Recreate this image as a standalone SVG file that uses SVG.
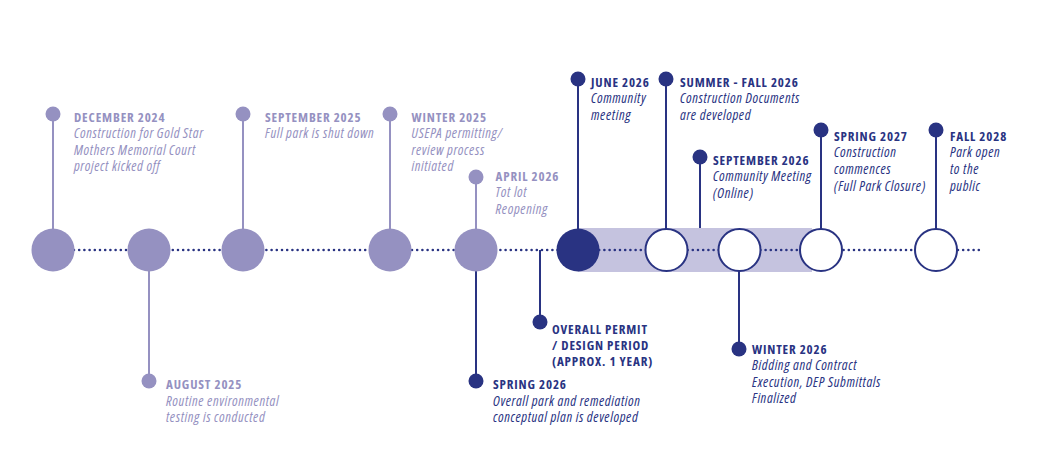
<svg xmlns="http://www.w3.org/2000/svg" width="1041" height="468" viewBox="0 0 1041 468">
<style>
text{font-family:"Open Sans","Liberation Sans",sans-serif;font-stretch:condensed}
.t{font-weight:700;font-size:13px;letter-spacing:0.85px}
.i{font-style:italic;font-size:14px;letter-spacing:0.6px}
.lt{fill:#9591c1}
.dk{fill:#293382}
.stl{stroke:#9591c1;stroke-width:2;fill:none}
.std{stroke:#293382;stroke-width:2;fill:none}
.bigl{fill:#9591c1}
.bigd{fill:#293382}
.open{fill:#fff;stroke:#293382;stroke-width:2}
</style>
<rect width="1041" height="468" fill="#fff"/>
<rect x="578" y="228" width="234" height="44" fill="#c5c3df"/>
<g id="connectors">
<line x1="74" y1="250" x2="983" y2="250" stroke="#293382" stroke-width="2.6" stroke-linecap="round" stroke-dasharray="0 5.2"/>
<line class="stl" x1="53" y1="114" x2="53" y2="230"/>
<line class="stl" x1="149" y1="270" x2="149" y2="381"/>
<line class="stl" x1="243" y1="114" x2="243" y2="230"/>
<line class="stl" x1="390" y1="114" x2="390" y2="230"/>
<line class="stl" x1="476" y1="177" x2="476" y2="230"/>
<line class="std" x1="476" y1="270" x2="476" y2="381"/>
<line class="std" x1="540" y1="250" x2="540" y2="322"/>
<line class="std" x1="578" y1="79" x2="578" y2="230"/>
<line class="std" x1="666" y1="79" x2="666" y2="229"/>
<line class="std" x1="700" y1="157" x2="700" y2="228"/>
<line class="std" x1="739" y1="271" x2="739" y2="349"/>
<line class="std" x1="821" y1="130" x2="821" y2="229"/>
<line class="std" x1="936" y1="130" x2="936" y2="229"/>
</g>
<g id="dec2024">
<circle class="bigl" cx="53" cy="250" r="21.5"/>
<circle class="bigl" cx="53" cy="114" r="7.5"/>
<text class="t lt" x="74" y="121.5">DECEMBER 2024</text>
<text class="i lt" x="74" y="138">Construction for Gold Star</text>
<text class="i lt" x="74" y="154.7">Mothers Memorial Court</text>
<text class="i lt" x="74" y="171.3">project kicked off</text>
</g>
<g id="aug2025">
<circle class="bigl" cx="149" cy="250" r="21.5"/>
<circle class="bigl" cx="149" cy="381" r="7.5"/>
<text class="t lt" x="166" y="389">AUGUST 2025</text>
<text class="i lt" x="166" y="405.7">Routine environmental</text>
<text class="i lt" x="166" y="422.3">testing is conducted</text>
</g>
<g id="sep2025">
<circle class="bigl" cx="243" cy="250" r="21.5"/>
<circle class="bigl" cx="243" cy="114" r="7.5"/>
<text class="t lt" x="265" y="121.5">SEPTEMBER 2025</text>
<text class="i lt" x="265" y="138">Full park is shut down</text>
</g>
<g id="winter2025">
<circle class="bigl" cx="390" cy="250" r="21.5"/>
<circle class="bigl" cx="390" cy="114" r="7.5"/>
<text class="t lt" x="411.5" y="121.5">WINTER 2025</text>
<text class="i lt" x="411.5" y="138">USEPA permitting/</text>
<text class="i lt" x="411.5" y="154.7">review process</text>
<text class="i lt" x="411.5" y="171.3">initiated</text>
</g>
<g id="apr2026">
<circle class="bigl" cx="476" cy="250" r="21.5"/>
<circle class="bigl" cx="476" cy="177" r="7.5"/>
<text class="t lt" x="495.5" y="180.5">APRIL 2026</text>
<text class="i lt" x="495.5" y="197">Tot lot</text>
<text class="i lt" x="495.5" y="213.5">Reopening</text>
</g>
<g id="spr2026">
<circle class="bigd" cx="476" cy="381" r="7.5"/>
<text class="t dk" x="493" y="388.5">SPRING 2026</text>
<text class="i dk" x="493" y="405.5">Overall park and remediation</text>
<text class="i dk" x="493" y="422">conceptual plan is developed</text>
</g>
<g id="permit">
<circle class="bigd" cx="540" cy="322" r="7.5"/>
<text class="t dk" x="552" y="334">OVERALL PERMIT</text>
<text class="t dk" x="552" y="350">/ DESIGN PERIOD</text>
<text class="t dk" x="552" y="366">(APPROX. 1 YEAR)</text>
</g>
<g id="jun2026">
<circle class="bigd" cx="578" cy="250" r="21.5"/>
<circle class="bigd" cx="578" cy="79" r="7.5"/>
<text class="t dk" x="591" y="86.5">JUNE 2026</text>
<text class="i dk" x="591" y="103.3">Community</text>
<text class="i dk" x="591" y="120">meeting</text>
</g>
<g id="sumfall2026">
<circle class="open" cx="666.5" cy="250" r="21"/>
<circle class="bigd" cx="666" cy="79" r="7.5"/>
<text class="t dk" x="680" y="86.5">SUMMER - FALL 2026</text>
<text class="i dk" x="680" y="103.3">Construction Documents</text>
<text class="i dk" x="680" y="120">are developed</text>
</g>
<g id="sep2026">
<circle class="bigd" cx="700" cy="157" r="7.5"/>
<text class="t dk" x="713" y="164.5">SEPTEMBER 2026</text>
<text class="i dk" x="713" y="181">Community Meeting</text>
<text class="i dk" x="713" y="197.5">(Online)</text>
</g>
<g id="winter2026">
<circle class="open" cx="739.5" cy="250" r="21"/>
<circle class="bigd" cx="739" cy="349" r="7.5"/>
<text class="t dk" x="752" y="353.5">WINTER 2026</text>
<text class="i dk" x="752" y="370">Bidding and Contract</text>
<text class="i dk" x="752" y="386.5">Execution, DEP Submittals</text>
<text class="i dk" x="752" y="403">Finalized</text>
</g>
<g id="spr2027">
<circle class="open" cx="821" cy="250" r="21"/>
<circle class="bigd" cx="821" cy="130" r="7.5"/>
<text class="t dk" x="834" y="140.5">SPRING 2027</text>
<text class="i dk" x="834" y="157.2">Construction</text>
<text class="i dk" x="834" y="174">commences</text>
<text class="i dk" x="834" y="190.7">(Full Park Closure)</text>
</g>
<g id="fall2028">
<circle class="open" cx="936" cy="250" r="21"/>
<circle class="bigd" cx="936" cy="130" r="7.5"/>
<text class="t dk" x="950" y="140.5">FALL 2028</text>
<text class="i dk" x="950" y="157.2">Park open</text>
<text class="i dk" x="950" y="174">to the</text>
<text class="i dk" x="950" y="190.7">public</text>
</g>
</svg>
